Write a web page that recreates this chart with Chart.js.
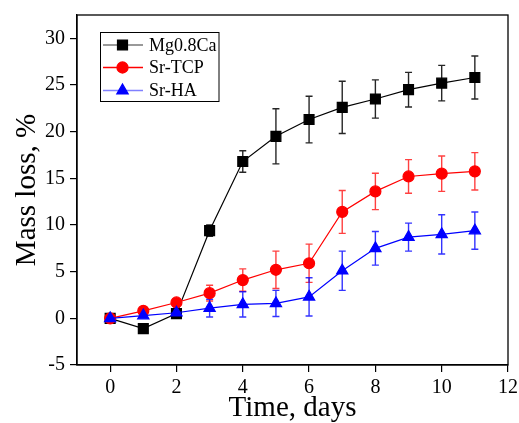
<html>
<head>
    <meta charset="UTF-8">
    <script src="https://cdn.jsdelivr.net/npm/chart.js"></script>
    <title>Mass loss</title>
    <style>
        body { margin: 0; background: #fff; font-family: "Liberation Serif"; }
    </style>
</head>
<body>
    <div style="width: 519px; height: 423px;"><canvas id="massLoss" width="519" height="423"></canvas></div>
    <script>
        // valeurs
        const days = [0, 1, 2, 3, 4, 5, 6, 7, 8, 9, 10, 11];
        const mgLoss = [0, -1.1, 0.5, 9.4, 16.8, 19.5, 21.3, 22.6, 23.5, 24.5, 25.2, 25.8];
        const mgErr = [0, 0, 0.5, 0.6, 1.15, 2.95, 2.5, 2.8, 2.05, 1.85, 1.9, 2.3];
        const tcpLoss = [0, 0.8, 1.7, 2.7, 4.1, 5.2, 5.9, 11.4, 13.6, 15.2, 15.5, 15.75];
        const tcpErr = [0, 0, 0.2, 0.85, 1.2, 2.0, 2.05, 2.3, 1.95, 1.8, 1.9, 2.0];
        const haLoss = [0, 0.3, 0.6, 1.1, 1.5, 1.6, 2.3, 5.1, 7.5, 8.7, 9.0, 9.4];
        const haErr = [0, 0.2, 0.6, 0.95, 1.35, 1.4, 2.05, 2.1, 1.8, 1.5, 2.1, 2.0];
        const xTicks = [0, 2, 4, 6, 8, 10, 12];
        const yTicks = [-5, 0, 5, 10, 15, 20, 25, 30];

        const serif = "'Liberation Serif', 'Times New Roman', serif";

        function points(values) {
            return days.map((d, i) => ({ x: d, y: values[i] }));
        }

        // barres d'erreur
        const errorBars = {
            id: 'errorBars',
            beforeDatasetsDraw(chart) {
                const ctx = chart.ctx;
                const xs = chart.scales.x, ys = chart.scales.y;
                chart.data.datasets.forEach(ds => {
                    ctx.save();
                    ctx.strokeStyle = ds.errColor;
                    ctx.lineWidth = 1.4;
                    ds.data.forEach((p, i) => {
                        const e = ds.errors[i];
                        if (!e) return;
                        const px = xs.getPixelForValue(p.x);
                        const top = ys.getPixelForValue(p.y + e);
                        const bot = ys.getPixelForValue(p.y - e);
                        ctx.beginPath();
                        ctx.moveTo(px, top); ctx.lineTo(px, bot);
                        ctx.moveTo(px - 3.5, top); ctx.lineTo(px + 3.5, top);
                        ctx.moveTo(px - 3.5, bot); ctx.lineTo(px + 3.5, bot);
                        ctx.stroke();
                    });
                    ctx.restore();
                });
            }
        };

        // cadre + légende
        const frameLegend = {
            id: 'frameLegend',
            afterDraw(chart) {
                const ctx = chart.ctx;
                const a = chart.chartArea;
                ctx.save();
                ctx.strokeStyle = '#000';
                ctx.lineWidth = 1.3;
                ctx.strokeRect(a.left, a.top, a.right - a.left, a.bottom - a.top);

                ctx.lineWidth = 1;
                ctx.strokeRect(100.5, 32.5, 118.5, 69);
                const rows = [45, 67.5, 90.5];
                ctx.font = '18px ' + serif;
                ctx.textBaseline = 'middle';
                ctx.textAlign = 'left';
                chart.data.datasets.forEach((ds, k) => {
                    const yy = rows[k];
                    ctx.strokeStyle = ds.legendLine;
                    ctx.lineWidth = 1.3;
                    ctx.beginPath();
                    ctx.moveTo(103, yy); ctx.lineTo(143, yy);
                    ctx.stroke();
                    ctx.fillStyle = ds.pointBackgroundColor;
                    ctx.strokeStyle = ds.pointBackgroundColor;
                    Chart.helpers.drawPoint(ctx, {
                        pointStyle: ds.pointStyle, radius: ds.pointRadius, rotation: 0, borderWidth: 1
                    }, 122.5, yy);
                    ctx.fillStyle = '#000';
                    ctx.fillText(ds.label, 149, yy + 1);
                });
                ctx.restore();
            }
        };

        const data = {
            datasets: [{
                label: 'Mg0.8Ca',
                data: points(mgLoss),
                errors: mgErr,
                errColor: 'rgba(0,0,0,0.85)',
                legendLine: '#777',
                borderColor: '#000',
                borderWidth: 1.2,
                pointStyle: 'rect',
                pointRadius: 7,
                pointBackgroundColor: '#000',
                pointBorderColor: '#000',
                tension: 0,
                order: 2
            }, {
                label: 'Sr-TCP',
                data: points(tcpLoss),
                errors: tcpErr,
                errColor: 'rgba(255,0,0,0.75)',
                legendLine: '#f00',
                borderColor: '#f00',
                borderWidth: 1.2,
                pointStyle: 'circle',
                pointRadius: 5.5,
                pointBackgroundColor: '#f00',
                pointBorderColor: '#f00',
                tension: 0,
                order: 1
            }, {
                label: 'Sr-HA',
                data: points(haLoss),
                errors: haErr,
                errColor: 'rgba(0,0,255,0.8)',
                legendLine: '#8080ff',
                borderColor: '#00f',
                borderWidth: 1.2,
                pointStyle: 'triangle',
                pointRadius: 6.5,
                pointBackgroundColor: '#00f',
                pointBorderColor: '#00f',
                tension: 0,
                order: 0
            }]
        };

        const config = {
            type: 'line',
            data: data,
            options: {
                responsive: false,
                animation: false,
                layout: { padding: { left: 0, right: 11, top: 15, bottom: 0 } },
                plugins: {
                    legend: { display: false },
                    tooltip: { enabled: false }
                },
                scales: {
                    x: {
                        type: 'linear',
                        min: -1,
                        max: 12,
                        afterBuildTicks: s => { s.ticks = xTicks.map(v => ({ value: v })); },
                        afterFit: s => { s.height = 58; s.paddingLeft = 0; s.paddingRight = 0; },
                        grid: { drawOnChartArea: false, drawTicks: true, tickLength: 7, color: '#000', lineWidth: 1.2 },
                        border: { display: true, color: '#000', width: 1.3 },
                        ticks: { color: '#000', padding: 4, maxRotation: 0, font: { family: serif, size: 20 } },
                        title: {
                            display: true, text: 'Time, days', color: '#000',
                            font: { family: serif, size: 29 }, padding: { top: 0, bottom: -3 }
                        }
                    },
                    y: {
                        min: -5,
                        max: 32.5,
                        afterBuildTicks: s => { s.ticks = yTicks.map(v => ({ value: v })); },
                        afterFit: s => { s.width = 77; s.paddingTop = 0; s.paddingBottom = 0; },
                        grid: { drawOnChartArea: false, drawTicks: true, tickLength: 7, color: '#000', lineWidth: 1.2 },
                        border: { display: true, color: '#000', width: 1.3 },
                        ticks: { color: '#000', padding: 5, font: { family: serif, size: 20 } },
                        title: {
                            display: true, text: 'Mass loss, %', color: '#000',
                            font: { family: serif, size: 29 }, padding: { top: 10, bottom: 0 }
                        }
                    }
                }
            },
            plugins: [errorBars, frameLegend]
        };

        let myChart;
        Promise.all([
            document.fonts.load('18px "Liberation Serif"'),
            document.fonts.load('29px "Liberation Serif"')
        ]).catch(() => {}).then(() => {
            myChart = new Chart(document.getElementById('massLoss'), config);
        });
    </script>
</body>
</html>
